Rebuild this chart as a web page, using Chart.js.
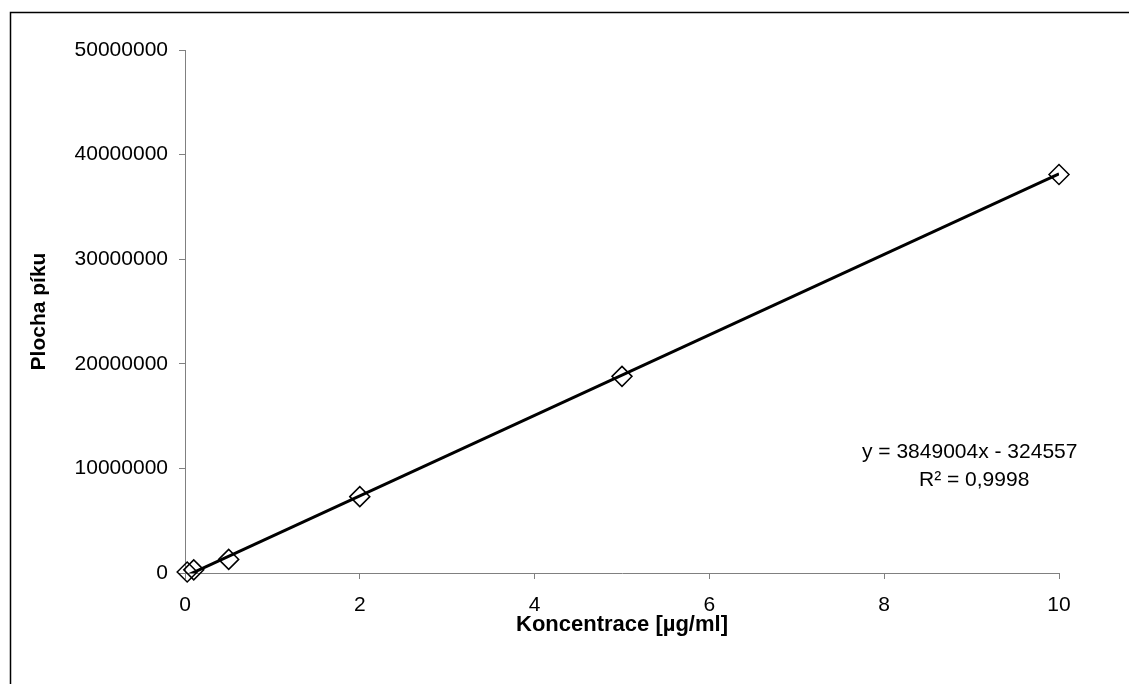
<!DOCTYPE html>
<html>
<head>
<meta charset="utf-8">
<script src="https://cdn.jsdelivr.net/npm/chart.js@4.4.0/dist/chart.umd.min.js"></script>
<style>
  html, body { margin: 0; padding: 0; background: #fff; }
  #wrap { position: relative; width: 1129px; height: 684px; }
</style>
</head>
<body>
<div id="wrap"><canvas id="chart" width="1129" height="684"></canvas></div>
<script>
// measured points
const concentrations = [0.025, 0.1, 0.5, 2, 5, 10];
const peakAreas = [90000, 300000, 1300000, 7300000, 18800000, 38100000];

// linear trendline from the chart label
const slope = 3849004;
const intercept = -324557;
const trendRange = [0, 10];

const xTicks = [0, 2, 4, 6, 8, 10];
const yTicks = [0, 10000000, 20000000, 30000000, 40000000, 50000000];

const equationLines = ['y = 3849004x - 324557', 'R\u00b2 = 0,9998'];

const FONT = '"Liberation Sans", Arial, sans-serif';

// frame (left + top only) + trendline label
const extras = {
    id: 'extras',
    afterDraw(chart) {
        const ctx = chart.ctx;
        ctx.save();
        ctx.strokeStyle = '#000';
        ctx.lineWidth = 1.5;
        ctx.beginPath();
        ctx.moveTo(10.5, 684);
        ctx.lineTo(10.5, 12.5);
        ctx.lineTo(1129, 12.5);
        ctx.stroke();
        ctx.fillStyle = '#000';
        ctx.font = '21px ' + FONT;
        ctx.textBaseline = 'middle';
        ctx.textAlign = 'left';
        ctx.fillText(equationLines[0], 862, 452);
        ctx.fillText(equationLines[1], 919, 480);
        ctx.restore();
    }
};

const ctx = document.getElementById('chart');
new Chart(ctx, {
    type: 'scatter',
    data: {
        datasets: [
            {
                type: 'line',
                label: 'trend',
                data: trendRange.map(x => ({ x: x, y: slope * x + intercept })),
                borderColor: '#000',
                borderWidth: 3,
                pointRadius: 0,
                fill: false,
                clip: 0
            },
            {
                label: 'data',
                data: concentrations.map((x, i) => ({ x: x, y: peakAreas[i] })),
                pointStyle: 'rectRot',
                pointRadius: 10,
                pointBorderWidth: 1.5,
                pointBorderColor: '#000',
                pointBackgroundColor: 'rgba(255,255,255,0)',
                clip: false
            }
        ]
    },
    options: {
        responsive: false,
        animation: false,
        layout: { padding: { left: 0, top: 50, right: 70, bottom: 0 } },
        plugins: {
            legend: { display: false },
            tooltip: { enabled: false }
        },
        scales: {
            x: {
                type: 'linear',
                min: 0,
                max: 10,
                afterBuildTicks: s => { s.ticks = xTicks.map(v => ({ value: v })); },
                afterFit: s => { s.height = 111; },
                grid: { drawOnChartArea: false, drawTicks: true, tickLength: 6, color: '#808080' },
                border: { display: true, color: '#808080', width: 1 },
                ticks: {
                    color: '#000',
                    font: { family: FONT, size: 21 },
                    padding: 14,
                    maxRotation: 0,
                    callback: v => String(v)
                },
                title: {
                    display: true,
                    text: 'Koncentrace [\u00b5g/ml]',
                    color: '#000',
                    font: { family: FONT, size: 22, weight: 'bold' },
                    padding: { top: 0, bottom: 46 }
                }
            },
            y: {
                type: 'linear',
                min: 0,
                max: 50000000,
                afterBuildTicks: s => { s.ticks = yTicks.map(v => ({ value: v })); },
                afterFit: s => { s.width = 185; },
                grid: { drawOnChartArea: false, drawTicks: true, tickLength: 6, color: '#808080' },
                border: { display: true, color: '#808080', width: 1 },
                ticks: {
                    color: '#000',
                    font: { family: FONT, size: 21 },
                    padding: 11,
                    callback: v => String(v)
                },
                title: {
                    display: true,
                    text: 'Plocha p\u00edku',
                    color: '#000',
                    font: { family: FONT, size: 21, weight: 'bold' },
                    padding: { top: 27, bottom: 0 }
                }
            }
        }
    },
    plugins: [extras]
});
</script>
</body>
</html>
